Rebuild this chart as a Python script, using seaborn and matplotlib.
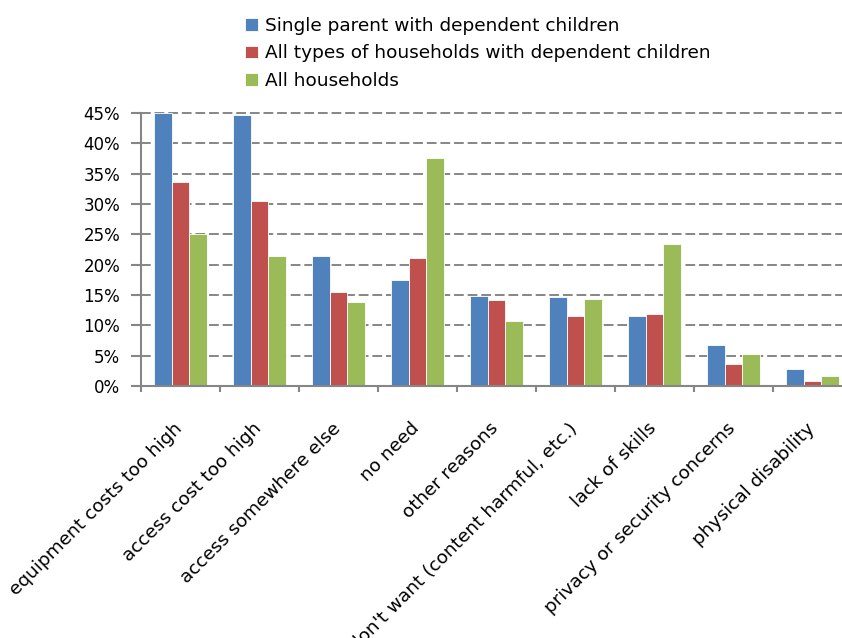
import matplotlib
matplotlib.use("Agg")
import matplotlib.pyplot as plt
import matplotlib.transforms as mtransforms
import seaborn as sns
import pandas as pd
from matplotlib.ticker import FixedLocator, PercentFormatter

# ---- data ----
categories = [
    "equipment costs too high",
    "access cost too high",
    "access somewhere else",
    "no need",
    "other reasons",
    "don't want (content harmful, etc.)",
    "lack of skills",
    "privacy or security concerns",
    "physical disability",
]
series_names = [
    "Single parent with dependent children",
    "All types of households with dependent children",
    "All households",
]
single_parent = [45.0, 44.6, 21.5, 17.5, 14.9, 14.6, 11.5, 6.7, 2.8]
all_with_children = [33.6, 30.5, 15.5, 21.1, 14.1, 11.5, 11.8, 3.6, 0.8]
all_households = [25.1, 21.5, 13.8, 37.5, 10.7, 14.3, 23.4, 5.3, 1.6]
y_ticks = [0, 5, 10, 15, 20, 25, 30, 35, 40, 45]
colors = ["#4F81BD", "#C0504D", "#9BBB59"]

rows = []
for name, vals in zip(series_names, [single_parent, all_with_children, all_households]):
    for c, v in zip(categories, vals):
        rows.append({"reason": c, "share": v, "series": name})
df = pd.DataFrame(rows)

sns.set_style("white")
plt.rcParams["font.family"] = ["DejaVu Sans"]
plt.rcParams["text.color"] = "black"
plt.rcParams["xtick.labelcolor"] = "black"
plt.rcParams["ytick.labelcolor"] = "black"

W, H = 842, 638
fig = plt.figure(figsize=(W / 100, H / 100), dpi=100)
ax = fig.add_axes([141 / W, 252 / H, 711 / W, 273 / H])

sns.barplot(data=df, x="reason", y="share", hue="series", order=categories,
            hue_order=series_names, palette=colors, saturation=1, width=0.675,
            edgecolor="white", linewidth=0.6, ax=ax)

grey = "#868686"
ax.set_ylim(0, 45)
ax.set_xlim(-0.5, len(categories) - 0.5)
ax.yaxis.set_major_locator(FixedLocator(y_ticks))
ax.yaxis.set_major_formatter(PercentFormatter(decimals=0))
ax.set_axisbelow(True)
ax.yaxis.grid(True, color=grey, linestyle=(0, (5, 2)), linewidth=1.4)
ax.xaxis.grid(False)
for gl in ax.get_ygridlines():
    gl.set_clip_on(False)

for s in ["top", "right"]:
    ax.spines[s].set_visible(False)
for s in ["left", "bottom"]:
    ax.spines[s].set_color(grey)
    ax.spines[s].set_linewidth(1.5)

# x: major ticks at category boundaries, labels on minor ticks at centers
ax.set_xticks([i - 0.5 for i in range(len(categories) + 1)])
ax.set_xticklabels([])
ax.set_xticks(range(len(categories)), minor=True)
ax.set_xticklabels(categories, minor=True, rotation=45, ha="right", va="top",
                   rotation_mode="anchor", fontsize=13.3, color="black")
ax.tick_params(axis="x", which="major", direction="out", length=4.5, width=1.5,
               color=grey, bottom=True)
ax.tick_params(axis="x", which="minor", length=0, pad=24)
ax.tick_params(axis="y", which="major", direction="out", length=7, width=1.5,
               color=grey, left=True, labelsize=12, pad=8, labelcolor="black")
ax.set_xlabel("")
ax.set_ylabel("")

shift = mtransforms.ScaledTranslation(-7 / 100, 0, fig.dpi_scale_trans)
for lab in ax.get_xticklabels(minor=True):
    lab.set_transform(lab.get_transform() + shift)

handles, labels = ax.get_legend_handles_labels()
ax.get_legend().remove()
leg = fig.legend(handles, labels, loc="upper left", bbox_to_anchor=(245 / W, 0.973),
                 frameon=False, fontsize=13.3, handlelength=0.7, handleheight=0.7,
                 handletextpad=0.4, labelspacing=0.5, borderpad=0, borderaxespad=0)
for t in leg.get_texts():
    t.set_color("black")

fig.savefig("out.png", dpi=100)
